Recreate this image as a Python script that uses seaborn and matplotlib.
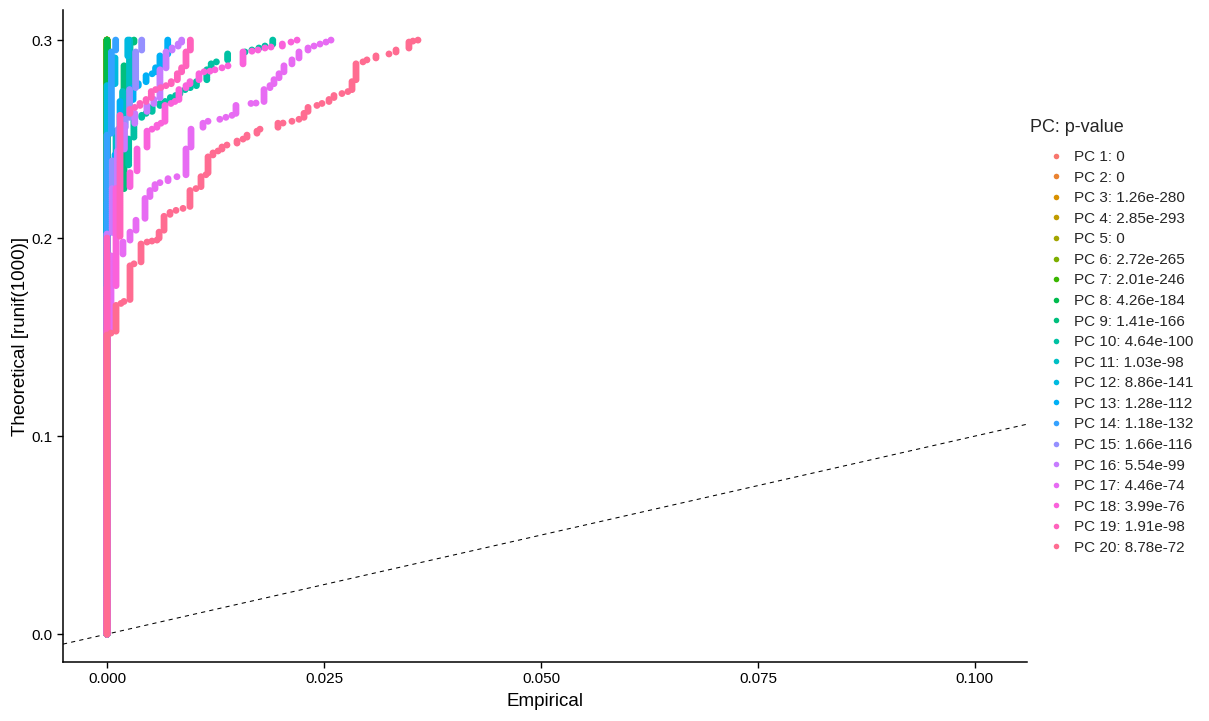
import numpy as np
import pandas as pd
import matplotlib
matplotlib.use("Agg")
import matplotlib.pyplot as plt
import seaborn as sns
from matplotlib.lines import Line2D

# ---------------- data ----------------
pc_numbers = list(range(1, 21))
p_values = ["0", "0", "1.26e-280", "2.85e-293", "0", "2.72e-265", "2.01e-246",
            "4.26e-184", "1.41e-166", "4.64e-100", "1.03e-98", "8.86e-141",
            "1.28e-112", "1.18e-132", "1.66e-116", "5.54e-99", "4.46e-74",
            "3.99e-76", "1.91e-98", "8.78e-72"]
palette = ["#F8766D", "#EA8331", "#D89000", "#C09B00", "#A3A500", "#7CAE00",
           "#39B600", "#00BB4E", "#00BF7D", "#00C1A3", "#00BFC4", "#00BAE0",
           "#00B0F6", "#35A2FF", "#9590FF", "#C77CFF", "#E76BF3", "#FA62DB",
           "#FF62BC", "#FF6C91"]

# theoretical quantiles of runif(1000) shown (0 .. 0.3)
theoretical_quantiles = np.round(np.arange(301) * 0.001, 3)

# empirical quantile value of each step and the theoretical quantile where the step begins
pc1_emp, pc1_theo = [0.0], [0.0]
pc2_emp, pc2_theo = [0.0], [0.0]
pc3_emp, pc3_theo = [0.0], [0.0]
pc4_emp, pc4_theo = [0.0], [0.0]
pc5_emp, pc5_theo = [0.0], [0.0]
pc6_emp, pc6_theo = [0.0], [0.0]
pc7_emp, pc7_theo = [0.0], [0.0]
pc8_emp, pc8_theo = [0.0], [0.0]
pc9_emp = [0.0, 0.00104, 0.00196, 0.00265, 0.00311]
pc9_theo = [0.0, 0.2131, 0.2242, 0.2874, 0.2990]
pc10_emp = [0.0, 0.00104, 0.0025, 0.0031, 0.0040, 0.0045, 0.0052, 0.0061, 0.0067,
            0.0073, 0.0079, 0.0084, 0.0090, 0.0096, 0.0103, 0.0115, 0.0120, 0.0126,
            0.0139, 0.0159, 0.0167, 0.0175, 0.0182, 0.0191]
pc10_theo = [0.0, 0.213, 0.237, 0.2505, 0.261, 0.2621, 0.2636, 0.2662, 0.2682,
             0.2697, 0.2712, 0.2722, 0.2747, 0.2758, 0.2768, 0.2798, 0.2859, 0.2889,
             0.2899, 0.2939, 0.2950, 0.2960, 0.2966, 0.2975]
pc11_emp = [0.0, 0.00104, 0.0018, 0.0026]
pc11_theo = [0.0, 0.219, 0.2545, 0.2747]
pc12_emp = [0.0, 0.00092, 0.0024]
pc12_theo = [0.0, 0.2773, 0.2914]
pc13_emp = [0.0, 0.00092, 0.0015, 0.0030, 0.0036, 0.0045, 0.0052, 0.0056, 0.0061, 0.0070]
pc13_theo = [0.0, 0.2343, 0.2430, 0.2697, 0.2763, 0.2783, 0.2823, 0.2838, 0.2864, 0.2924]
pc14_emp = [0.0, 0.0005, 0.0010]
pc14_theo = [0.0, 0.2525, 0.2950]
pc15_emp = [0.0, 0.0006, 0.0013, 0.0021, 0.0026, 0.0033, 0.0040]
pc15_theo = [0.0, 0.2025, 0.2394, 0.2560, 0.2610, 0.2758, 0.2950]
pc16_emp = [0.0, 0.0006, 0.0012, 0.0020, 0.0032, 0.0046, 0.0054, 0.0061, 0.0068,
            0.0075, 0.0082, 0.0086]
pc16_theo = [0.0, 0.2025, 0.2253, 0.2450, 0.2580, 0.2636, 0.2677, 0.2707, 0.2859,
             0.2950, 0.2970, 0.2985]
pc17_emp = [0.0, 0.00046, 0.00184, 0.00265, 0.00334, 0.00438, 0.00495, 0.00553,
            0.0061, 0.00703, 0.00806, 0.0091, 0.00968, 0.01106, 0.01164, 0.0130,
            0.0137, 0.0144, 0.01486, 0.01659, 0.01717, 0.01809, 0.01878, 0.01924,
            0.01982, 0.02039, 0.02131, 0.02212, 0.02316, 0.02385, 0.02454, 0.02523,
            0.02581]
pc17_theo = [0.0, 0.1535, 0.1914, 0.1990, 0.2040, 0.2091, 0.2207, 0.2242,
             0.2273, 0.2283, 0.2308, 0.2318, 0.2460, 0.2556, 0.2581, 0.2591,
             0.2601, 0.2611, 0.2621, 0.2672, 0.2682, 0.2687, 0.2753, 0.2773,
             0.2808, 0.2833, 0.2874, 0.2909, 0.2949, 0.2965, 0.2975, 0.2985,
             0.2995]
pc18_emp = [0.0, 0.00104, 0.00265, 0.00346, 0.00461, 0.00518, 0.00576, 0.00622,
            0.00668, 0.00737, 0.00783, 0.00829, 0.0091, 0.00956, 0.0106, 0.01118,
            0.01187, 0.01244, 0.01325, 0.01394, 0.01567, 0.0167, 0.0174, 0.0182,
            0.0189, 0.0202, 0.0212, 0.0219]
pc18_theo = [0.0, 0.1753, 0.2253, 0.2333, 0.2460, 0.2545, 0.2556, 0.2571,
             0.2586, 0.2672, 0.2682, 0.2692, 0.2758, 0.2778, 0.2798, 0.2833,
             0.2843, 0.2848, 0.2854, 0.2864, 0.2874, 0.2944, 0.2949, 0.2955,
             0.2965, 0.2970, 0.2985, 0.2995]
pc19_emp = [0.0, 0.0015, 0.00265, 0.0032, 0.0038, 0.0045, 0.0051, 0.0056, 0.0062,
            0.0068, 0.0074, 0.0081, 0.0086, 0.0091, 0.0096]
pc19_theo = [0.0, 0.2005, 0.2626, 0.2657, 0.2667, 0.2682, 0.2707, 0.2742, 0.2753,
             0.2768, 0.2778, 0.2798, 0.2838, 0.2869, 0.2949]
pc20_emp = [0.0, 0.00046, 0.00104, 0.00161, 0.00196, 0.00265, 0.00311, 0.00392,
            0.00461, 0.00518, 0.00576, 0.0060, 0.00657, 0.00726, 0.00795, 0.00876,
            0.00956, 0.01025, 0.01083, 0.0114, 0.01164, 0.01221, 0.01279, 0.01325,
            0.01382, 0.01498, 0.01567, 0.01613, 0.01728, 0.01763, 0.0197, 0.02028,
            0.02131, 0.02212, 0.0227, 0.02316, 0.02419, 0.02477, 0.02558, 0.02615,
            0.02707, 0.02776, 0.02823, 0.02869, 0.02949, 0.02995, 0.03099, 0.03249,
            0.0333, 0.03479, 0.03525, 0.03583]
pc20_theo = [0.0, 0.1515, 0.1525, 0.1667, 0.1677, 0.1687, 0.1864, 0.1874,
             0.1980, 0.1985, 0.1990, 0.1995, 0.2040, 0.2116, 0.2131, 0.2141,
             0.2157, 0.2247, 0.2258, 0.2318, 0.2328, 0.2419, 0.2434, 0.2449,
             0.2465, 0.2480, 0.2495, 0.2510, 0.2530, 0.2545, 0.2551, 0.2581,
             0.2586, 0.2596, 0.2606, 0.2636, 0.2662, 0.2677, 0.2687, 0.2702,
             0.2722, 0.2737, 0.2747, 0.2798, 0.2889, 0.2894, 0.2909, 0.2924,
             0.2934, 0.2960, 0.2995, 0.3000]

steps = {
    1: (pc1_emp, pc1_theo), 2: (pc2_emp, pc2_theo), 3: (pc3_emp, pc3_theo),
    4: (pc4_emp, pc4_theo), 5: (pc5_emp, pc5_theo), 6: (pc6_emp, pc6_theo),
    7: (pc7_emp, pc7_theo), 8: (pc8_emp, pc8_theo), 9: (pc9_emp, pc9_theo),
    10: (pc10_emp, pc10_theo), 11: (pc11_emp, pc11_theo), 12: (pc12_emp, pc12_theo),
    13: (pc13_emp, pc13_theo), 14: (pc14_emp, pc14_theo), 15: (pc15_emp, pc15_theo),
    16: (pc16_emp, pc16_theo), 17: (pc17_emp, pc17_theo), 18: (pc18_emp, pc18_theo),
    19: (pc19_emp, pc19_theo), 20: (pc20_emp, pc20_theo),
}

legend_labels = [f"PC {n}: {p}" for n, p in zip(pc_numbers, p_values)]

# build long table: each theoretical quantile carries the empirical value of its step
rows = []
for n in pc_numbers:
    emp, theo = steps[n]
    for k in range(len(emp)):
        lo = theo[k]
        hi = theo[k + 1] if k + 1 < len(emp) else 0.3 + 1e-6
        ts = theoretical_quantiles[(theoretical_quantiles >= lo - 1e-9) &
                                   (theoretical_quantiles < hi - 1e-9)]
        if len(ts) == 0:
            ts = [lo]
        for t in ts:
            rows.append((legend_labels[n - 1], emp[k], t))
df = pd.DataFrame(rows, columns=["PC", "Empirical", "Theoretical"])

# ---------------- plot ----------------
sns.set_style("ticks")
plt.rcParams["font.family"] = ["Liberation Sans", "DejaVu Sans"]

fig = plt.figure(figsize=(12.09, 7.21), dpi=100)
ax = fig.add_axes([63 / 1209, 1 - 662 / 721, (1027 - 63) / 1209, (662 - 10) / 721])

sns.scatterplot(data=df, x="Empirical", y="Theoretical", hue="PC",
                hue_order=legend_labels, palette=palette, s=24, linewidth=0,
                legend=False, ax=ax)
ax.axline((0, 0), (0.1, 0.1), color="black", lw=0.75, ls=(0, (4, 4)), zorder=0)

ax.set_xlim(-0.00507, 0.106)
ax.set_ylim(-0.0141, 0.3152)
ax.set_xticks([0, 0.025, 0.05, 0.075, 0.1])
ax.set_xticklabels(["0.000", "0.025", "0.050", "0.075", "0.100"])
ax.set_yticks([0, 0.1, 0.2, 0.3])
ax.set_yticklabels(["0.0", "0.1", "0.2", "0.3"])
ax.tick_params(axis="both", labelsize=11, colors="black", length=4, width=1)
for side in ["top", "right"]:
    ax.spines[side].set_visible(False)
for side in ["left", "bottom"]:
    ax.spines[side].set_linewidth(1.1)
    ax.spines[side].set_color("black")
ax.set_xlabel("Empirical", fontsize=13.5, color="black", labelpad=5)
ax.set_ylabel("Theoretical [runif(1000)]", fontsize=13.5, color="black", labelpad=2)
ax.grid(False)

# legend
fig.text(1030 / 1209, 1 - 128 / 721, "PC: p-value", fontsize=13, va="center", ha="left")
handles = [Line2D([], [], marker="o", ls="", color=c, markersize=4, markeredgewidth=0)
           for c in palette]
fig.legend(handles, legend_labels, loc="upper left",
           bbox_to_anchor=(1048 / 1209, 1 - 150 / 721), frameon=False,
           fontsize=11, handlelength=1.0, handletextpad=0.7, labelspacing=0.43,
           borderpad=0, borderaxespad=0)

fig.savefig("out.png", dpi=100)
